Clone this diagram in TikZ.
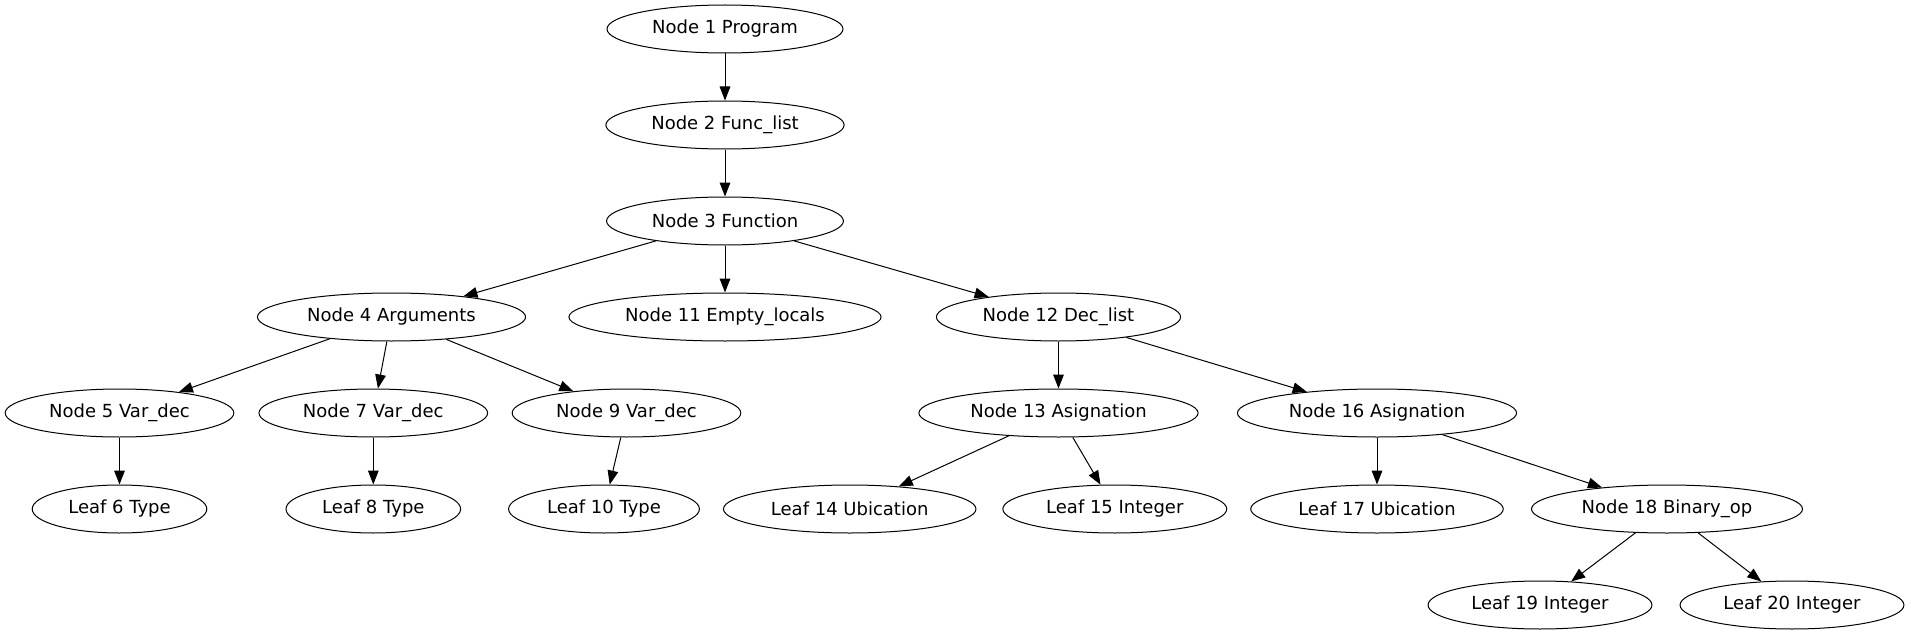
\documentclass[tikz,border=0pt]{standalone}
\usepackage{fontspec}
\setmainfont{DejaVu Sans}
\usetikzlibrary{shapes.geometric,arrows.meta}
\tikzset{
  treenode/.style={draw,ellipse,line width=0.75pt,inner xsep=7.9pt,inner ysep=2pt,
    minimum height=36pt,font=\fontsize{13.5}{16}\selectfont},
  treeedge/.style={line width=0.75pt,-{Triangle[length=10.5pt,width=8pt]}}
}
\begin{document}
\begin{tikzpicture}[x=0.75pt,y=-0.75pt]
\useasboundingbox (0,0) rectangle (1911,635);

% Top of the tree
\node[treenode] (n1) at (725,29) {Node 1 Program};
\node[treenode] (n2) at (725,125) {Node 2 Func\_list};
\node[treenode] (n3) at (725,221) {Node 3 Function};

% Function parts
\node[treenode] (n4) at (391.5,317) {Node 4 Arguments};
\node[treenode] (n11) at (725,317) {Node 11 Empty\_locals};
\node[treenode] (n12) at (1058.5,317) {Node 12 Dec\_list};

% Arguments
\node[treenode] (n5) at (119.5,413) {Node 5 Var\_dec};
\node[treenode] (n7) at (373.3,413) {Node 7 Var\_dec};
\node[treenode] (n9) at (626.5,413) {Node 9 Var\_dec};
\node[treenode] (l6) at (119.5,509) {Leaf 6 Type};
\node[treenode] (l8) at (373.3,509) {Leaf 8 Type};
\node[treenode] (l10) at (604,509) {Leaf 10 Type};

% Declarations
\node[treenode] (n13) at (1058.5,413) {Node 13 Asignation};
\node[treenode] (n16) at (1377,413) {Node 16 Asignation};
\node[treenode] (l14) at (849.7,509) {Leaf 14 Ubication};
\node[treenode] (l15) at (1114.8,509) {Leaf 15 Integer};
\node[treenode] (l17) at (1377,509) {Leaf 17 Ubication};
\node[treenode] (n18) at (1667,509) {Node 18 Binary\_op};
\node[treenode] (l19) at (1540,605) {Leaf 19 Integer};
\node[treenode] (l20) at (1792,605) {Leaf 20 Integer};

% Edges
\draw[treeedge] (n1) -- (n2);
\draw[treeedge] (n2) -- (n3);
\draw[treeedge] (n3) -- (n4);
\draw[treeedge] (n3) -- (n11);
\draw[treeedge] (n3) -- (n12);
\draw[treeedge] (n4) -- (n5);
\draw[treeedge] (n4) -- (n7);
\draw[treeedge] (n4) -- (n9);
\draw[treeedge] (n5) -- (l6);
\draw[treeedge] (n7) -- (l8);
\draw[treeedge] (n9) -- (l10);
\draw[treeedge] (n12) -- (n13);
\draw[treeedge] (n12) -- (n16);
\draw[treeedge] (n13) -- (l14);
\draw[treeedge] (n13) -- (l15);
\draw[treeedge] (n16) -- (l17);
\draw[treeedge] (n16) -- (n18);
\draw[treeedge] (n18) -- (l19);
\draw[treeedge] (n18) -- (l20);
\end{tikzpicture}
\end{document}
